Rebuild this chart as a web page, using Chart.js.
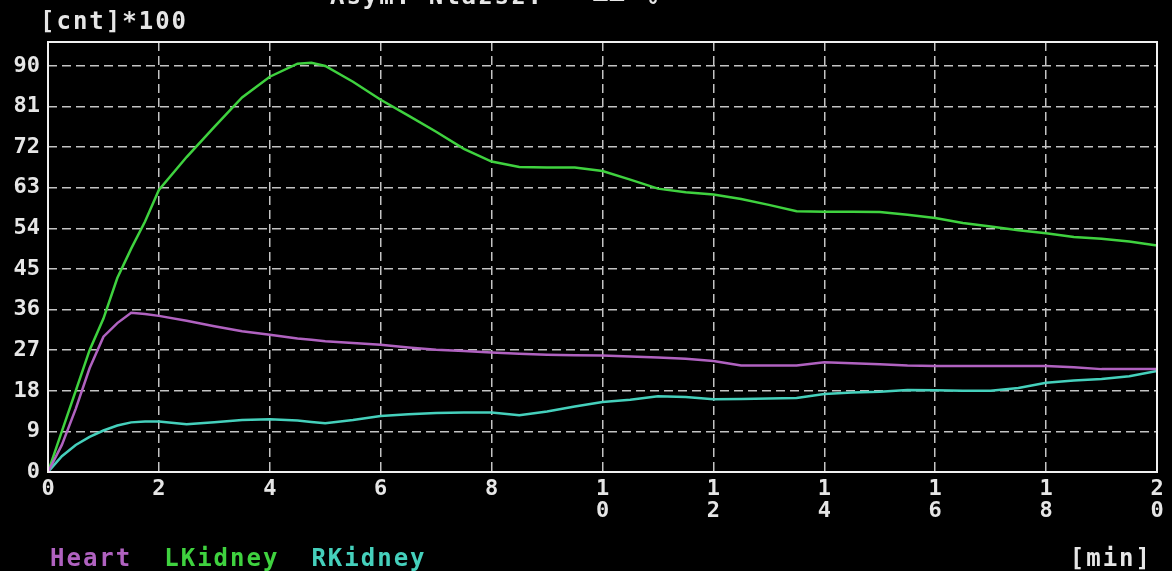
<!DOCTYPE html>
<html>
<head>
<meta charset="utf-8">
<script src="https://cdn.jsdelivr.net/npm/chart.js@4/dist/chart.umd.min.js"></script>
<style>
  body { margin: 0; background: #000; }
  #wrap { width: 1172px; height: 571px; position: relative; }
</style>
</head>
<body>
<div id="wrap"><canvas id="renoChart"></canvas></div>
<script>
// czas [min]
const timeMin = [0, 0.25, 0.5, 0.75, 1, 1.25, 1.5, 1.75, 2, 2.5, 3, 3.5, 4, 4.5, 4.75, 5, 5.5, 6, 6.5, 7, 7.5, 8, 8.5, 9, 9.5, 10,
  10.5, 11, 11.5, 12, 12.5, 13, 13.5, 14, 14.5, 15, 15.5, 16, 16.5, 17, 17.5, 18, 18.5, 19, 19.5, 20];
// [cnt]*100
const heartCnt = [0, 6, 14, 23, 30, 33, 35.3, 35, 34.6, 33.5, 32.3, 31.2, 30.4, 29.6, 29.3, 29, 28.6, 28.2, 27.6, 27.1, 26.8, 26.5, 26.2, 26, 25.9, 25.8,
  25.6, 25.4, 25.1, 24.6, 23.6, 23.6, 23.6, 24.3, 24.1, 23.9, 23.6, 23.5, 23.5, 23.5, 23.5, 23.5, 23.2, 22.8, 22.8, 22.8];
const lKidneyCnt = [0, 9, 18, 27, 34, 43, 49.5, 55.5, 62.5, 69.8, 76.5, 83, 87.6, 90.5, 90.7, 90, 86.5, 82.5, 79, 75.4, 71.6, 68.8, 67.6, 67.5, 67.5, 66.7,
  64.8, 62.8, 62, 61.5, 60.5, 59.2, 57.8, 57.7, 57.7, 57.6, 57, 56.3, 55.2, 54.4, 53.6, 52.9, 52.1, 51.7, 51.1, 50.2];
const rKidneyCnt = [0, 3.5, 6, 7.8, 9.2, 10.3, 11, 11.2, 11.2, 10.6, 11, 11.5, 11.7, 11.4, 11.1, 10.8, 11.5, 12.4, 12.8, 13.1, 13.2, 13.2, 12.6, 13.4, 14.5, 15.5,
  16, 16.8, 16.6, 16.1, 16.2, 16.3, 16.4, 17.3, 17.6, 17.8, 18.2, 18.1, 18, 18, 18.6, 19.8, 20.3, 20.6, 21.2, 22.4];

const xTicks = [0, 2, 4, 6, 8, 10, 12, 14, 16, 18, 20];
const yTicks = [0, 9, 18, 27, 36, 45, 54, 63, 72, 81, 90];

const seriesNames = ["Heart", "LKidney", "RKidney"];
const seriesColors = ["#b062c0", "#3fd23f", "#45d0bc"];

const monoFont = '"DejaVu Sans Mono", "Liberation Mono", monospace';
const txtColor = '#e6e6e6';

function toPoints(vals) {
  return timeMin.map((t, i) => ({ x: t, y: vals[i] }));
}

// ramka + napisy
const textPlugin = {
  id: 'textPlugin',
  afterDraw(chart) {
    const ctx = chart.ctx;
    const a = chart.chartArea;
    ctx.save();
    ctx.strokeStyle = '#f0f0f0';
    ctx.lineWidth = 2;
    ctx.strokeRect(a.left, a.top, a.right - a.left, a.bottom - a.top);

    ctx.fillStyle = txtColor;
    ctx.textBaseline = 'alphabetic';
    ctx.textAlign = 'left';
    ctx.font = 'bold 24px ' + monoFont;
    ctx.letterSpacing = '2px';
    ctx.fillText('Asym. Nlazsz. = ▬▬ %', 330, 4);
    ctx.fillText('[cnt]*100', 40, 29);

    // legenda
    let x = 50;
    ctx.letterSpacing = '2px';
    for (let i = 0; i < seriesNames.length; i++) {
      ctx.fillStyle = seriesColors[i];
      ctx.fillText(seriesNames[i], x, 566);
      x += ctx.measureText(seriesNames[i]).width + 32;
    }
    ctx.fillStyle = txtColor;
    ctx.textAlign = 'right';
    ctx.fillText('[min]', 1152, 566);
    ctx.restore();
  }
};

new Chart(document.getElementById('renoChart'), {
  type: 'line',
  data: {
    datasets: seriesNames.map((name, i) => ({
      label: name,
      data: toPoints([heartCnt, lKidneyCnt, rKidneyCnt][i]),
      borderColor: seriesColors[i],
      borderWidth: 2.5,
      pointRadius: 0,
      tension: 0,
      fill: false
    }))
  },
  options: {
    responsive: true,
    maintainAspectRatio: false,
    animation: false,
    layout: { padding: { top: 42, right: 15, left: 0, bottom: 0 } },
    plugins: {
      legend: { display: false },
      tooltip: { enabled: false }
    },
    scales: {
      x: {
        type: 'linear',
        min: 0,
        max: 20,
        afterBuildTicks: s => { s.ticks = xTicks.map(v => ({ value: v })); },
        afterFit: s => { s.height = 99; },
        ticks: {
          color: txtColor,
          font: { family: monoFont, size: 22, weight: 'bold', lineHeight: 1.0 },
          padding: 6,
          maxRotation: 0,
          autoSkip: false,
          callback: v => String(v).split('')
        },
        grid: { color: '#c4c4c4', lineWidth: 1.5, drawTicks: false },
        border: { display: false, dash: [9, 5] }
      },
      y: {
        min: 0,
        max: 95.3,
        afterBuildTicks: s => { s.ticks = yTicks.map(v => ({ value: v })); },
        afterFit: s => { s.width = 48; },
        ticks: {
          color: txtColor,
          font: { family: monoFont, size: 22, weight: 'bold' },
          padding: 8
        },
        grid: { color: '#c4c4c4', lineWidth: 1.5, drawTicks: false },
        border: { display: false, dash: [9, 5] }
      }
    }
  },
  plugins: [textPlugin]
});
</script>
</body>
</html>
